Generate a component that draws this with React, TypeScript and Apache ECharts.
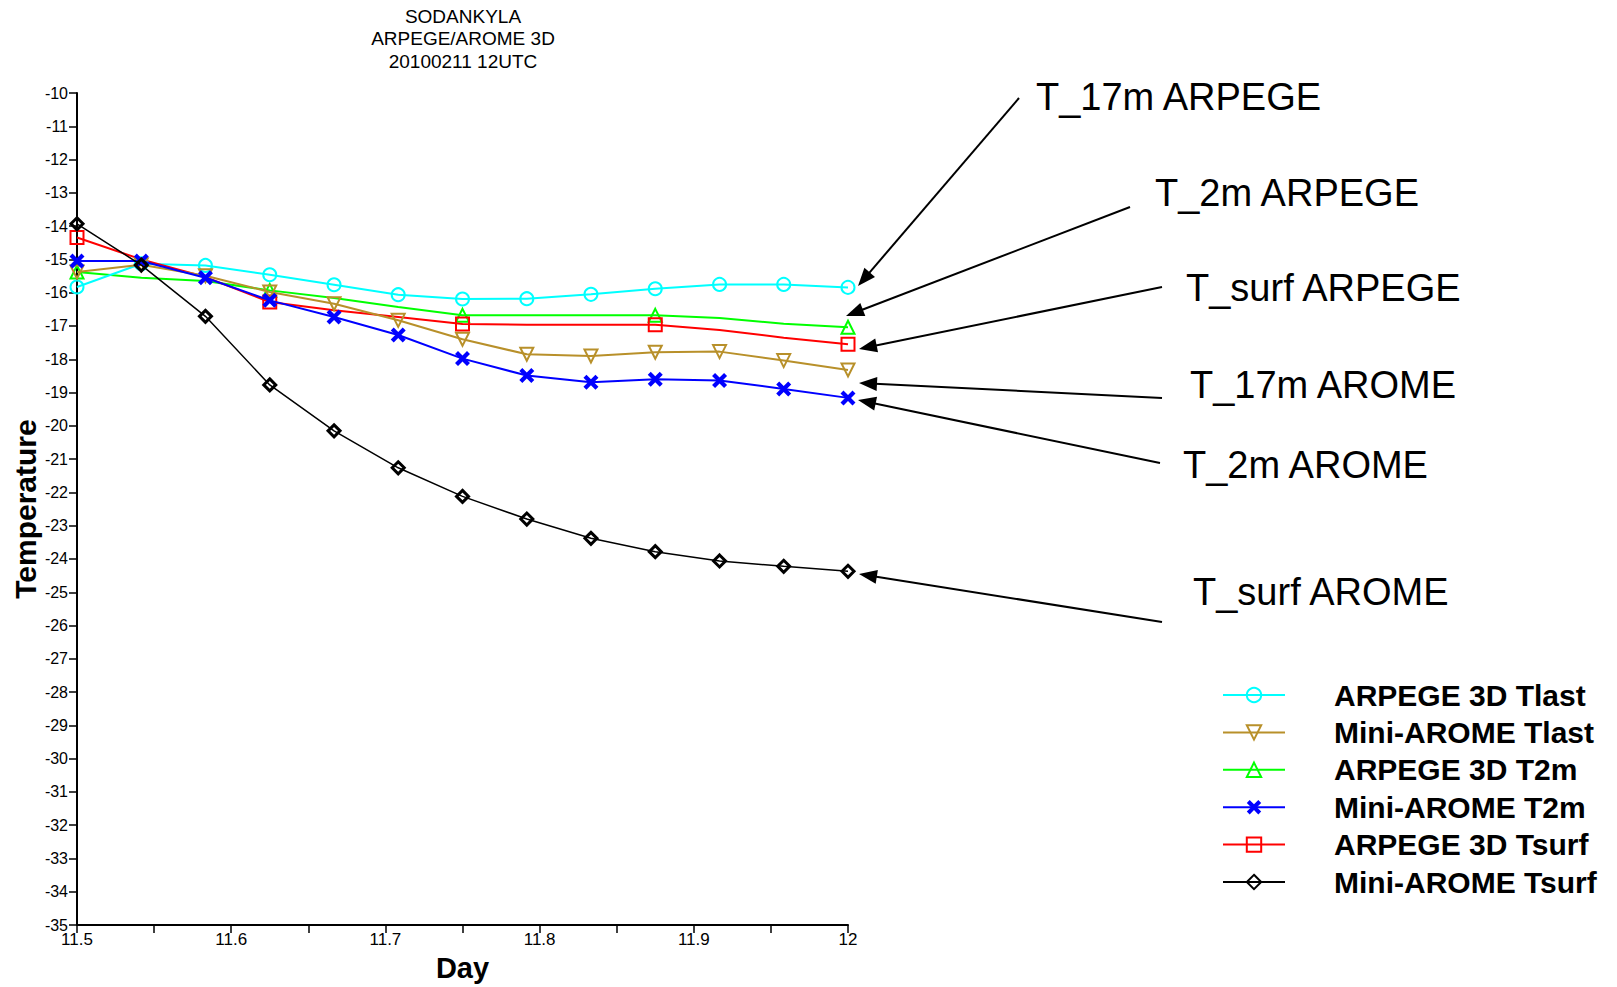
import React, { useEffect, useRef } from "react";
import * as echarts from "echarts";

const DAYS = [11.5, 11.5417, 11.5833, 11.625, 11.6667, 11.7083, 11.75, 11.7917, 11.8333, 11.875, 11.9167, 11.9583, 12];

const ARPEGE_TLAST = [-15.83, -15.13, -15.18, -15.46, -15.76, -16.06, -16.19, -16.18, -16.05, -15.88, -15.75, -15.75, -15.84];
const AROME_TLAST = [-15.38, -15.16, -15.49, -15.98, -16.33, -16.83, -17.4, -17.85, -17.9, -17.79, -17.77, -18.04, -18.32];
const ARPEGE_T2M = [-15.38, -15.55, -15.65, -15.93, -16.16, -16.43, -16.68, -16.68, -16.68, -16.68, -16.76, -16.93, -17.04];
const AROME_T2M = [-15.05, -15.05, -15.55, -16.23, -16.73, -17.27, -17.98, -18.49, -18.69, -18.6, -18.64, -18.89, -19.16];
const ARPEGE_TSURF = [-14.34, -15.0, -15.53, -16.28, -16.53, -16.73, -16.94, -16.96, -16.96, -16.96, -17.12, -17.35, -17.55];
const AROME_TSURF = [-13.93, -15.17, -16.71, -18.77, -20.15, -21.26, -22.12, -22.8, -23.38, -23.78, -24.06, -24.22, -24.37];

// ARPEGE T2m / Tsurf markers shown only every 3 hours
const ARPEGE_MARKED = [true, false, false, true, false, false, true, false, false, true, false, false, true];

const SERIES_NAMES = [
  "ARPEGE 3D Tlast",
  "Mini-AROME Tlast",
  "ARPEGE 3D T2m",
  "Mini-AROME T2m",
  "ARPEGE 3D Tsurf",
  "Mini-AROME Tsurf",
];

const TITLE_LINES = ["SODANKYLA", "ARPEGE/AROME 3D", "20100211 12UTC"];
const ANNOTATION_TEXTS = ["T_17m ARPEGE", "T_2m ARPEGE", "T_surf ARPEGE", "T_17m AROME", "T_2m AROME", "T_surf AROME"];

const FONT = "'Liberation Sans', Arial, sans-serif";
const X_ICON = "path://M0,2 L2,0 L5,3 L8,0 L10,2 L7,5 L10,8 L8,10 L5,7 L2,10 L0,8 L3,5 Z";

// layout of the annotation texts and arrows (pixels)
const ANNOT_LAYOUT = [
  { x: 1036, y: 97, from: [1019, 98], to: [858, 286] },
  { x: 1155, y: 193, from: [1130, 207], to: [846, 316] },
  { x: 1186, y: 288, from: [1162, 287], to: [859, 349] },
  { x: 1190, y: 385, from: [1162, 398], to: [859, 383] },
  { x: 1183, y: 465, from: [1160, 463], to: [858, 400] },
  { x: 1193, y: 592, from: [1162, 622], to: [859, 574] },
];

function arrow(from: number[], to: number[]) {
  const dx = to[0] - from[0];
  const dy = to[1] - from[1];
  const len = Math.hypot(dx, dy);
  const ux = dx / len;
  const uy = dy / len;
  const hl = 18;
  const hw = 7;
  const bx = to[0] - ux * hl;
  const by = to[1] - uy * hl;
  return [
    {
      type: "line",
      shape: { x1: from[0], y1: from[1], x2: bx + ux * 2, y2: by + uy * 2 },
      style: { stroke: "#000", lineWidth: 2 },
    },
    {
      type: "polygon",
      shape: { points: [to, [bx - uy * hw, by + ux * hw], [bx + uy * hw, by - ux * hw]] },
      style: { fill: "#000" },
    },
  ];
}

function pairs(values: number[]) {
  return DAYS.map((d, i) => [d, values[i]]);
}

function markedPairs(values: number[]) {
  return DAYS.map((d, i) =>
    ARPEGE_MARKED[i] ? { value: [d, values[i]] } : { value: [d, values[i]], symbol: "none" }
  );
}

export default function App() {
  const ref = useRef<HTMLDivElement>(null);

  useEffect(() => {
    if (!ref.current) return;
    const chart = echarts.init(ref.current, null, { renderer: "svg" });

    const hollow = (c: string, w = 2) => ({ color: "rgba(255,255,255,0)", borderColor: c, borderWidth: w });

    const series: any[] = [
      {
        name: SERIES_NAMES[0],
        type: "line",
        data: pairs(ARPEGE_TLAST),
        symbol: "circle",
        symbolSize: 13,
        lineStyle: { color: "#00FFFF", width: 2 },
        itemStyle: hollow("#00FFFF"),
        z: 3,
      },
      {
        name: SERIES_NAMES[1],
        type: "line",
        data: pairs(AROME_TLAST),
        symbol: "triangle",
        symbolRotate: 180,
        symbolSize: 13,
        lineStyle: { color: "#B8902A", width: 2 },
        itemStyle: hollow("#B8902A"),
        z: 4,
      },
      {
        name: SERIES_NAMES[2],
        type: "line",
        data: markedPairs(ARPEGE_T2M),
        symbol: "triangle",
        symbolSize: 13,
        lineStyle: { color: "#00FF00", width: 2 },
        itemStyle: hollow("#00FF00"),
        z: 2,
      },
      {
        name: SERIES_NAMES[3],
        type: "line",
        data: pairs(AROME_T2M),
        symbol: X_ICON,
        symbolSize: 15,
        lineStyle: { color: "#0000FF", width: 2 },
        itemStyle: { color: "#0000FF", borderWidth: 0 },
        z: 5,
      },
      {
        name: SERIES_NAMES[4],
        type: "line",
        data: markedPairs(ARPEGE_TSURF),
        symbol: "rect",
        symbolSize: 13,
        lineStyle: { color: "#FF0000", width: 2 },
        itemStyle: hollow("#FF0000"),
        z: 3,
      },
      {
        name: SERIES_NAMES[5],
        type: "line",
        data: pairs(AROME_TSURF),
        symbol: "diamond",
        symbolSize: 12,
        lineStyle: { color: "#000000", width: 1.5 },
        itemStyle: hollow("#000000", 3),
        z: 6,
      },
    ];

    const graphic: any[] = [];
    ANNOTATION_TEXTS.forEach((t, i) => {
      const a = ANNOT_LAYOUT[i];
      graphic.push({
        type: "text",
        x: a.x,
        y: a.y,
        style: {
          text: t,
          fill: "#000",
          fontSize: 38,
          fontFamily: FONT,
          align: "left",
          verticalAlign: "middle",
        },
      });
      graphic.push(...arrow(a.from, a.to));
    });

    chart.setOption({
      animation: false,
      backgroundColor: "#ffffff",
      textStyle: { fontFamily: FONT },
      title: {
        text: TITLE_LINES.join("\n"),
        left: 458,
        top: 0,
        textAlign: "center",
        textStyle: { fontSize: 19, fontWeight: "normal", color: "#000", lineHeight: 22.5, fontFamily: FONT },
      },
      grid: { left: 77, top: 93, width: 771, height: 837, containLabel: false },
      xAxis: {
        type: "value",
        min: 11.5,
        max: 12,
        interval: 0.05,
        name: "Day",
        nameLocation: "middle",
        nameGap: 25,
        nameTextStyle: { fontSize: 29, fontWeight: "bold", color: "#000", fontFamily: FONT },
        axisLine: { lineStyle: { color: "#000", width: 2 } },
        axisTick: { show: true, length: 8, lineStyle: { color: "#000", width: 1.5 } },
        axisLabel: {
          color: "#000",
          fontSize: 17,
          margin: 6,
          showMinLabel: true,
          showMaxLabel: true,
          formatter: (v: number) => {
            const t = v * 10;
            if (Math.abs(t - Math.round(t)) > 1e-6) return "";
            const r = Math.round(t) / 10;
            return Number.isInteger(r) ? String(r) : r.toFixed(1);
          },
        },
        splitLine: { show: false },
      },
      yAxis: {
        type: "value",
        min: -35,
        max: -10,
        interval: 1,
        name: "Temperature",
        nameLocation: "middle",
        nameGap: 36,
        nameTextStyle: { fontSize: 30, fontWeight: "bold", color: "#000", fontFamily: FONT },
        axisLine: { show: true, lineStyle: { color: "#000", width: 2 } },
        axisTick: { show: true, length: 8, lineStyle: { color: "#000", width: 1.5 } },
        axisLabel: { color: "#000", fontSize: 16, margin: 9 },
        splitLine: { show: false },
      },
      legend: {
        orient: "vertical",
        left: 1217,
        top: 675,
        itemWidth: 62,
        itemHeight: 18,
        itemGap: 7.4,
        data: SERIES_NAMES,
        textStyle: {
          fontSize: 30,
          fontWeight: "bold",
          color: "#000",
          fontFamily: FONT,
          padding: [0, 0, 0, 44],
        },
      },
      series,
      graphic,
    });

    return () => chart.dispose();
  }, []);

  return (
    <div
      ref={ref}
      style={{ position: "fixed", left: 0, top: 0, width: 1617, height: 987, background: "#fff" }}
    />
  );
}
